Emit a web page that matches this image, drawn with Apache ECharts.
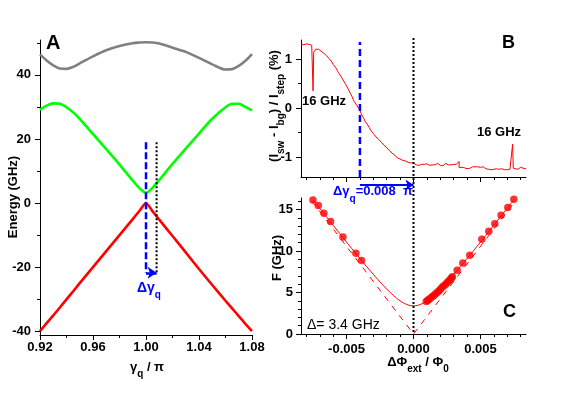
<!DOCTYPE html>
<html><head><meta charset="utf-8">
<script src="https://cdn.jsdelivr.net/npm/echarts@6/dist/echarts.min.js"></script>
<style>html,body{margin:0;padding:0;background:#fff}#c{width:566px;height:393px}</style>
</head><body><div id="c"></div>
<script>
// ---------- Panel A : energy levels ----------
const aX    = [0.92,0.925,0.93,0.935,0.94,0.945,0.95,0.96,0.97,0.98,0.99,0.995,1.0,1.005,1.01,1.02,1.03,1.04,1.05,1.06,1.065,1.07,1.075,1.08];
const aGray = [46.4,44.5,43.0,42.0,41.9,42.5,43.6,45.8,47.7,49.0,49.9,50.1,50.2,50.1,49.8,48.5,47.2,45.3,43.3,41.7,41.8,42.8,44.4,46.5];
const aGreen= [29.1,30.4,31.1,31.0,29.9,28.3,26.3,21.5,16.8,12.0,7.0,4.7,3.2,4.8,7.2,12.2,17.0,21.7,26.3,29.9,31.0,31.0,30.0,28.9];
const aRed  = [-40,-37.5,-35.1,-32.6,-30.1,-27.6,-25.0,-20.0,-15.0,-10.0,-5.0,-2.5,0,-2.6,-5.2,-10.3,-15.4,-20.6,-25.6,-30.5,-32.9,-35.3,-37.7,-40];
const aXTicks = [0.92,0.96,1.00,1.04,1.08];
const aXMinor = [0.94,0.98,1.02,1.06];
const aYTicks = [-40,-20,0,20,40];
const aYMinor = [-30,-10,10,30,50];
const aXRange = [0.92,1.08];
const aYRange = [-41.2,50.9];
const aBlueX = 1.0, aDotX = 1.008;
const aMarkTop = 19, aMarkBottom = -21.8;

// ---------- Panel B : switching current ----------
const bX = [-0.0084,-0.0083,-0.0082,-0.0081,-0.008,-0.0079,-0.0078,-0.0077,-0.0076,-0.00755,-0.0075,-0.00745,-0.0074,-0.0073,-0.0072,-0.0071,-0.007,-0.0069,-0.0068,-0.0067,-0.0066,-0.0065,-0.0064,-0.0063,-0.0062,-0.0061,-0.006,-0.0059,-0.0058,-0.0057,-0.0056,-0.0055,-0.0054,-0.0053,-0.0052,-0.0051,-0.005,-0.0049,-0.0048,-0.0047,-0.0046,-0.0045,-0.0044,-0.0043,-0.0042,-0.0041,-0.004,-0.0039,-0.0038,-0.0037,-0.0036,-0.0035,-0.0034,-0.0033,-0.0032,-0.0031,-0.003,-0.0029,-0.0028,-0.0027,-0.0026,-0.0025,-0.0024,-0.0023,-0.0022,-0.0021,-0.002,-0.0019,-0.0018,-0.0017,-0.0016,-0.0015,-0.0014,-0.0013,-0.0012,-0.0011,-0.001,-0.0009,-0.0008,-0.0007,-0.0006,-0.0005,-0.0004,-0.0003,-0.0002,-0.0001,0,0.0001,0.0002,0.0003,0.0004,0.0005,0.0006,0.0007,0.0008,0.0009,0.001,0.0011,0.0012,0.0013,0.0014,0.0015,0.0016,0.0017,0.0018,0.0019,0.002,0.0021,0.0022,0.0023,0.0024,0.0025,0.0026,0.0027,0.0028,0.0029,0.003,0.0031,0.0032,0.0033,0.0034,0.00341,0.0035,0.0036,0.0037,0.0038,0.0039,0.004,0.0041,0.0042,0.0043,0.0044,0.0045,0.0046,0.0047,0.0048,0.0049,0.005,0.0051,0.0052,0.0053,0.0054,0.0055,0.0056,0.0057,0.0058,0.0059,0.006,0.0061,0.0062,0.0063,0.0064,0.0065,0.0066,0.0067,0.0068,0.0069,0.007,0.0071,0.0072,0.0073,0.0074,0.00745,0.0075,0.0076,0.0077,0.0078,0.0079,0.008,0.0081,0.0082,0.0083,0.0084];
const bY = [1.30,1.31,1.29,1.30,1.31,1.29,1.30,1.27,1.28,1.25,0.35,1.14,1.17,1.20,1.19,1.20,1.17,1.16,1.14,1.12,1.10,1.07,1.05,1.01,0.98,0.94,0.89,0.85,0.82,0.77,0.72,0.68,0.64,0.59,0.55,0.50,0.45,0.41,0.35,0.29,0.24,0.17,0.12,0.08,0.04,0.00,-0.05,-0.12,-0.17,-0.22,-0.28,-0.31,-0.35,-0.40,-0.45,-0.49,-0.52,-0.56,-0.59,-0.62,-0.64,-0.67,-0.70,-0.73,-0.76,-0.79,-0.81,-0.84,-0.87,-0.88,-0.92,-0.94,-0.96,-0.99,-1.02,-1.03,-1.04,-1.05,-1.07,-1.08,-1.08,-1.10,-1.11,-1.10,-1.12,-1.13,-1.12,-1.14,-1.16,-1.15,-1.17,-1.16,-1.15,-1.16,-1.15,-1.16,-1.14,-1.15,-1.17,-1.15,-1.16,-1.14,-1.16,-1.15,-1.13,-1.15,-1.17,-1.16,-1.18,-1.15,-1.13,-1.15,-1.16,-1.14,-1.16,-1.17,-1.15,-1.16,-1.15,-1.14,-1.09,-1.22,-1.23,-1.21,-1.24,-1.22,-1.23,-1.24,-1.22,-1.23,-1.21,-1.20,-1.19,-1.20,-1.18,-1.20,-1.19,-1.21,-1.22,-1.20,-1.22,-1.24,-1.23,-1.25,-1.24,-1.26,-1.24,-1.25,-1.26,-1.24,-1.26,-1.25,-1.26,-1.24,-1.25,-1.26,-1.25,-1.26,-1.24,-1.25,-1.24,-0.74,-1.23,-1.22,-1.24,-1.23,-1.25,-1.22,-1.21,-1.24,-1.23,-1.22,-1.24];
const bYTicks = [-1,0,1];
const bYMinor = [-0.5,0.5];
const bYRange = [-1.408,1.388];
const bBlueX = -0.004;

// ---------- Panel C : spectroscopy ----------
const cX = [-0.00751,-0.00711,-0.00669,-0.00619,-0.00527,-0.0043,-0.00388,0.00095,0.00105,0.00114,0.00126,0.00139,0.00151,0.00164,0.00176,0.00189,0.00201,0.00214,0.00226,0.00239,0.00251,0.00264,0.00274,0.00284,0.0029,0.00326,0.00368,0.0042,0.0051,0.00562,0.00607,0.00654,0.00704,0.00749];
const cF = [16.14,15.5,14.54,13.57,11.69,9.72,8.87,3.93,4.05,4.17,4.32,4.5,4.65,4.82,5.0,5.18,5.4,5.62,5.8,5.98,6.2,6.39,6.58,6.75,6.9,7.67,8.55,9.48,11.41,12.37,13.29,14.3,15.26,16.23];
const fitX = [-0.0075,-0.007,-0.006,-0.005,-0.004,-0.003,-0.0025,-0.002,-0.0015,-0.001,-0.0005,0,0.0005,0.001,0.0015,0.002,0.0025,0.003,0.004,0.005,0.006,0.007,0.0075];
const fitF = [16.19,15.16,13.11,11.08,9.10,7.19,6.28,5.42,4.65,4.00,3.56,3.40,3.56,4.00,4.65,5.42,6.28,7.19,9.10,11.08,13.11,15.16,16.19];
const asymX = [-0.0076,0,0.0076];
const asymF = [16.04,0,16.04];
const cXTicks = [-0.005,0,0.005];
const cXMinor = [-0.008,-0.007,-0.006,-0.004,-0.003,-0.002,-0.001,0.001,0.002,0.003,0.004,0.006,0.007,0.008];
const cYTicks = [0,5,10,15];
const cYMinor = [1,2,3,4,6,7,8,9,11,12,13,14,16];
const cXRange = [-0.0084,0.0084];
const cYRange = [0,16.39];

// ---------- overlay (B/C shared marks) : fraction of overlay height ----------
const dDotRange = [0.007,1.0];
const dArrowY = 0.502;

const FF = "'Liberation Sans', Arial, Helvetica, sans-serif";
const zip = (xs, ys) => xs.map((x, i) => [x, ys[i]]);

function axisPair(dim, grid, range, majors, minors, fmt, showLabels, margin) {
  const pos = dim === 'x' ? 'bottom' : 'left';
  const major = {
    gridIndex: grid, type: 'value', min: range[0], max: range[1], position: pos,
    axisLine: { show: true, onZero: false, lineStyle: { color: '#000', width: 1 } },
    axisTick: { show: true, customValues: majors, length: 5, inside: false, lineStyle: { color: '#000', width: 1 } },
    axisLabel: { show: showLabels, customValues: majors, formatter: fmt, margin: margin,
      color: '#000', fontFamily: FF, fontWeight: 'bold', fontSize: 13 },
    splitLine: { show: false }
  };
  const minor = {
    gridIndex: grid, type: 'value', min: range[0], max: range[1], position: pos,
    axisLine: { show: false, onZero: false },
    axisTick: { show: true, customValues: minors, length: 3, lineStyle: { color: '#000', width: 1 } },
    axisLabel: { show: false },
    splitLine: { show: false }
  };
  return [major, minor];
}

const xAxes = [
  ...axisPair('x', 0, aXRange, aXTicks, aXMinor, v => v.toFixed(2), true, 6),
  ...axisPair('x', 1, cXRange, cXTicks, cXMinor, v => v.toFixed(3), false, 8),
  ...axisPair('x', 2, cXRange, cXTicks, cXMinor, v => v.toFixed(3), true, 9),
  { gridIndex: 3, type: 'value', min: cXRange[0], max: cXRange[1], show: false }
];
const yAxes = [
  ...axisPair('y', 0, aYRange, aYTicks, aYMinor, v => String(v), true, 9),
  ...axisPair('y', 1, bYRange, bYTicks, bYMinor, v => String(v), true, 9),
  ...axisPair('y', 2, cYRange, cYTicks, cYMinor, v => String(v), true, 8),
  { gridIndex: 3, type: 'value', min: 0, max: 1, show: false }
];

const sub = { fontSize: 10, fontWeight: 'bold', fontFamily: FF, lineHeight: 19, verticalAlign: 'bottom' };
const main = (sz, w) => ({ fontSize: sz, fontWeight: w || 'bold', fontFamily: FF, lineHeight: 15, verticalAlign: 'top' });

function txt(x, y, text, opt) {
  opt = opt || {};
  return {
    type: 'text', x: x, y: y, rotation: opt.rot || 0, z: 100,
    style: {
      text: text, fill: opt.color || '#000', align: opt.align || 'left', verticalAlign: opt.va || 'top',
      fontFamily: FF, fontSize: opt.size || 13, fontWeight: opt.weight || 'bold',
      rich: { m: main(opt.size || 13, opt.weight), s: sub }
    }
  };
}

const arrowMark = (from, to, y, w, size) => ({
  silent: true, symbol: ['none', 'arrow'], symbolSize: size, label: { show: false },
  lineStyle: { color: '#0000ff', width: w, type: 'solid' },
  data: [[{ coord: [from, y] }, { coord: [to, y] }]]
});

const option = {
  animation: false,
  backgroundColor: '#fff',
  grid: [
    { left: 40, top: 40, width: 212, height: 295 },
    { left: 301, top: 40, width: 225, height: 137 },
    { left: 301, top: 198, width: 225, height: 136 },
    { left: 301, top: 37, width: 225, height: 297 }
  ],
  xAxis: xAxes,
  yAxis: yAxes,
  series: [
    // Panel A
    { type: 'line', xAxisIndex: 0, yAxisIndex: 0, data: zip(aX, aGray), showSymbol: false, smooth: 0.3,
      lineStyle: { color: '#808080', width: 2.6 } },
    { type: 'line', xAxisIndex: 0, yAxisIndex: 0, data: zip(aX, aGreen), showSymbol: false, smooth: 0.3,
      lineStyle: { color: '#00ff00', width: 2.6 } },
    { type: 'line', xAxisIndex: 0, yAxisIndex: 0, data: zip(aX, aRed), showSymbol: false, smooth: 0.2,
      lineStyle: { color: '#ff0000', width: 2.6 } },
    { type: 'line', xAxisIndex: 0, yAxisIndex: 0, data: [[aDotX, aMarkTop], [aDotX, aMarkBottom]], showSymbol: false,
      lineStyle: { color: '#000', width: 2, type: [2, 2] } },
    { type: 'line', xAxisIndex: 0, yAxisIndex: 0, data: [[aBlueX, aMarkTop], [aBlueX, aMarkBottom]], showSymbol: false,
      lineStyle: { color: '#0000ff', width: 2.5, type: [7, 3] },
      markLine: arrowMark(aBlueX, aDotX, aMarkBottom, 2.5, 9) },
    // Panel B
    { type: 'line', xAxisIndex: 2, yAxisIndex: 2, data: zip(bX, bY), showSymbol: false,
      lineStyle: { color: '#ff0000', width: 1 } },
    { type: 'line', xAxisIndex: 2, yAxisIndex: 2, data: [[bBlueX, bYRange[0]], [bBlueX, bYRange[1] - 0.04]], showSymbol: false,
      lineStyle: { color: '#0000ff', width: 2.5, type: [7, 4] } },
    // Panel C
    { type: 'line', xAxisIndex: 4, yAxisIndex: 4, data: zip(asymX, asymF), showSymbol: false,
      lineStyle: { color: '#ff0000', width: 1, type: [6, 6] } },
    { type: 'line', xAxisIndex: 4, yAxisIndex: 4, data: zip(fitX, fitF), showSymbol: false, smooth: true,
      lineStyle: { color: '#ff0000', width: 1 } },
    { type: 'scatter', xAxisIndex: 4, yAxisIndex: 4, data: zip(cX, cF), symbolSize: 7.5,
      itemStyle: { color: '#ff0000' } },
    // overlay: dotted zero line across B and C, arrow
    { type: 'line', xAxisIndex: 6, yAxisIndex: 6, data: [[0, dDotRange[0]], [0, dDotRange[1]]], showSymbol: false, clip: false,
      lineStyle: { color: '#000', width: 2, type: [2, 2] },
      markLine: arrowMark(bBlueX, 0, dArrowY, 2, 8) }
  ],
  graphic: [
    txt(46, 33, 'A', { size: 20 }),
    txt(502, 34, 'B', { size: 18 }),
    txt(503, 303, 'C', { size: 18 }),
    txt(302, 95, '16 GHz'),
    txt(477, 126, '16 GHz'),
    txt(307, 318, 'Δ= 3.4 GHz', { size: 14, weight: 'normal' }),
    txt(137, 281, '{m|Δγ}{s|q}', { color: '#0000ff', size: 14 }),
    txt(333, 185, '{m|Δγ}{s|q}{m|=0.008  π}', { color: '#0000ff', size: 13 }),
    txt(147, 370, '{m|γ}{s|q}{m| / π}', { align: 'center', va: 'middle' }),
    txt(418, 365, '{m|ΔΦ}{s|ext}{m| / Φ}{s|0}', { align: 'center', va: 'middle' }),
    txt(13, 197, 'Energy (GHz)', { align: 'center', va: 'middle', rot: Math.PI / 2 }),
    txt(277, 106, '{m|(I}{s|sw}{m| - I}{s|bg}{m|) / I}{s|step}{m| (%)}', { align: 'center', va: 'middle', rot: Math.PI / 2 }),
    txt(277, 258, 'F (GHz)', { align: 'center', va: 'middle', rot: Math.PI / 2 })
  ]
};

const chart = echarts.init(document.getElementById('c'), null, { renderer: 'canvas' });
chart.setOption(option);
</script>
</body></html>
